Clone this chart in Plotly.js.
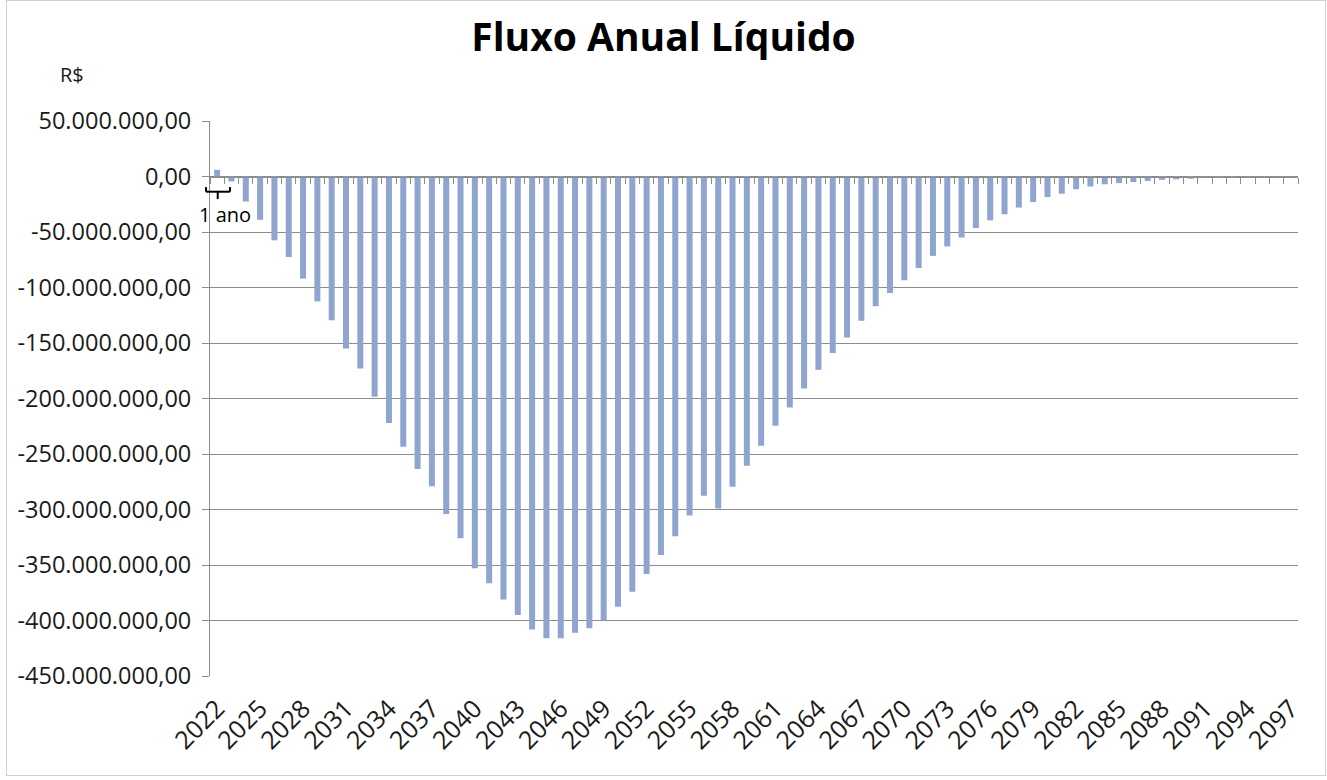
<!DOCTYPE html>
<html>
<head>
<meta charset="utf-8">
<script src="https://cdn.plot.ly/plotly-3.0.1.min.js"></script>
<style>
  html, body { margin: 0; padding: 0; background: #ffffff; }
  #chart { width: 1327px; height: 780px; position: relative; }
  #frame { position: absolute; left: 6px; top: 0px; width: 1318px; height: 774px; border: 1px solid #d0d0d0; pointer-events: none; }
</style>
</head>
<body>
<div id="chart"></div>
<div id="frame"></div>
<script>
// Years (categories)
const years = [];
for (let y = 2022; y <= 2097; y++) years.push(String(y));

// Net annual flow, in millions of R$
const fluxoMilhoes = [
  6, -4.5, -22.5, -39, -57.5, -72.5, -92, -112.5, -129.5, -155,
  -173, -198.5, -222, -243.5, -263.5, -279, -304, -326, -353, -366.5,
  -381, -395, -408, -416, -416, -411, -407, -400, -387.5, -374,
  -358, -341, -324, -305.5, -287.5, -299, -279.5, -260.5, -242.5, -224.5,
  -208, -191, -174, -159, -145, -130, -117, -105, -93.5, -82.5,
  -71.5, -63, -55, -46.5, -39.5, -34, -28, -23, -18.5, -15.5,
  -11.5, -9, -7, -6, -5, -4, -3, -2.5, -2, -1.2,
  -0.8, -0.5, -0.4, -0.3, -0.2, -0.2
];
const fluxo = fluxoMilhoes.map(v => v * 1e6);

// Axis ticks
const xTickYears = [];
for (let y = 2022; y <= 2097; y += 3) xTickYears.push(String(y));
const yTickVals = [50e6, 0, -50e6, -100e6, -150e6, -200e6, -250e6, -300e6, -350e6, -400e6, -450e6];
const yTickText = ["50.000.000,00", "0,00", "-50.000.000,00", "-100.000.000,00", "-150.000.000,00",
  "-200.000.000,00", "-250.000.000,00", "-300.000.000,00", "-350.000.000,00", "-400.000.000,00", "-450.000.000,00"];

const titleText = "Fluxo Anual Líquido";
const yUnit = "R$";
const spanLabel = "1 ano";

const fontFam = "Open Sans, Lato, sans-serif";
const gridCol = "#8c8c8c";

const traces = [
  {
    type: "bar",
    x: years,
    y: fluxo,
    marker: { color: "#8fa5cf", line: { width: 0 } },
    hoverinfo: "x+y"
  },
  {
    type: "scatter",
    mode: "markers",
    x: years,
    y: years.map(() => null),
    xaxis: "x2",
    yaxis: "y",
    showlegend: false,
    hoverinfo: "skip"
  }
];

const bracketLine = { color: "#000000", width: 2 };

const layout = {
  width: 1327,
  height: 780,
  margin: { l: 210, r: 29, t: 121, b: 104 },
  paper_bgcolor: "#ffffff",
  plot_bgcolor: "#ffffff",
  showlegend: false,
  bargap: 0.58,
  title: {
    text: "<b>" + titleText + "</b>",
    font: { family: fontFam, size: 39, color: "#000000" },
    x: 0.5, xanchor: "center",
    y: 0.952, yanchor: "middle",
    yref: "container"
  },
  xaxis: {
    type: "category",
    categoryorder: "array",
    categoryarray: years,
    range: [-0.5, years.length - 0.5],
    tickmode: "array",
    tickvals: xTickYears,
    ticktext: xTickYears,
    tickangle: -45,
    ticks: "",
    showgrid: false,
    showline: false,
    zeroline: false,
    ticklabelstandoff: 12,
    tickfont: { family: fontFam, size: 25, color: "#1a1a1a" },
    fixedrange: true
  },
  xaxis2: {
    type: "category",
    overlaying: "x",
    matches: "x",
    anchor: "free",
    position: 0.9,
    side: "bottom",
    categoryorder: "array",
    categoryarray: years,
    showticklabels: false,
    ticks: "outside",
    tickson: "boundaries",
    ticklen: 6,
    tickwidth: 1,
    tickcolor: gridCol,
    dtick: 1,
    showline: true,
    linecolor: gridCol,
    linewidth: 1,
    showgrid: false,
    zeroline: false
  },
  yaxis: {
    range: [-450e6, 50e6],
    tickmode: "array",
    tickvals: yTickVals,
    ticktext: yTickText,
    ticks: "outside",
    ticklen: 7,
    tickcolor: gridCol,
    showline: true,
    linecolor: gridCol,
    linewidth: 1,
    showgrid: true,
    gridcolor: gridCol,
    gridwidth: 1,
    zeroline: false,
    ticklabelstandoff: 6,
    tickfont: { family: fontFam, size: 23.5, color: "#1a1a1a" },
    fixedrange: true
  },
  annotations: [
    {
      text: yUnit,
      xref: "paper", yref: "paper",
      x: -0.127, y: 1.083,
      xanchor: "center", yanchor: "middle",
      showarrow: false,
      font: { family: fontFam, size: 20, color: "#1a1a1a" }
    },
    {
      text: spanLabel,
      xref: "paper", yref: "paper",
      x: 0.0138, y: 0.832,
      xanchor: "center", yanchor: "middle",
      showarrow: false,
      font: { family: fontFam, size: 20, color: "#000000" }
    }
  ],
  shapes: [
    { type: "line", xref: "paper", yref: "paper", x0: -0.0037, x1: -0.0037, y0: 0.881, y1: 0.8726, line: bracketLine },
    { type: "line", xref: "paper", yref: "paper", x0: -0.0037, x1: 0.0184, y0: 0.8726, y1: 0.8726, line: bracketLine },
    { type: "line", xref: "paper", yref: "paper", x0: 0.0184, x1: 0.0184, y0: 0.881, y1: 0.8726, line: bracketLine },
    { type: "line", xref: "paper", yref: "paper", x0: 0.0071, x1: 0.0071, y0: 0.8726, y1: 0.8594, line: bracketLine }
  ]
};

Plotly.newPlot("chart", traces, layout, { displayModeBar: false, staticPlot: true });
</script>
</body>
</html>
